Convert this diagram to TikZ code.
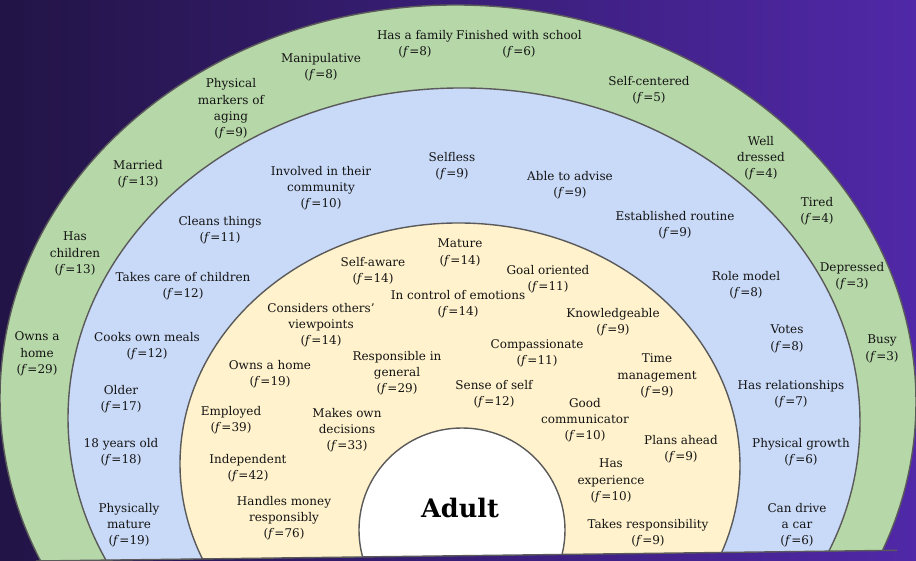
\documentclass[tikz,border=0pt]{standalone}
\usepackage{fontspec}
\setmainfont{DejaVu Serif}
\usepackage{tikz}
\usetikzlibrary{positioning}
\definecolor{bgdark}{RGB}{34,20,70}
\definecolor{bglight}{RGB}{80,40,168}
\definecolor{ringgreen}{RGB}{182,215,168}
\definecolor{ringblue}{RGB}{201,218,248}
\definecolor{ringyellow}{RGB}{255,242,204}
\definecolor{ringline}{RGB}{90,90,90}
\tikzstyle{ring} = [draw=ringline, line width=1.4pt]
\tikzstyle{lbl} = [align=center, inner sep=0pt, text=black!92, font=\fontsize{12}{16.3}\selectfont]
\newcommand{\fq}[1]{(\textit{f}=#1)}

\begin{document}
\begin{tikzpicture}[x=1pt,y=-1pt]
    \useasboundingbox (0,0) rectangle (916,561);
    \shade[left color=bgdark, right color=bglight] (0,0) rectangle (916,561);
    \begin{scope}
        \clip (-10,-10) -- (926,-10) -- (926,550) -- (0,561) -- cycle;
        \filldraw[ring, fill=ringgreen, rotate around={-1:(458,400)}] (458,400) ellipse [x radius=458, y radius=395];
        \filldraw[ring, fill=ringblue, rotate around={-1:(464,420)}] (464,420) ellipse [x radius=396, y radius=332];
        \filldraw[ring, fill=ringyellow, rotate around={-1:(460,465)}] (460,465) ellipse [x radius=280, y radius=242];
        \filldraw[ring, fill=white] (462,530) ellipse [x radius=103, y radius=102];
    \end{scope}
    \coordinate (baseL) at (36,561);
    \coordinate (baseR) at (897,550.3);
    \draw[ring] (baseL) -- (baseR);

    \begin{scope}[shift={(0,2)}]
    % outer ring
    \node[lbl] (hasfamily) at (415,42) {Has a family\\\fq{8}};
    \node[lbl] (finished) at (519,42) {Finished with school\\\fq{6}};
    \node[lbl] (manip) at (321,65) {Manipulative\\\fq{8}};
    \node[lbl] (physmarkers) at (231,107) {Physical\\markers of\\aging\\\fq{9}};
    \node[lbl] (selfcent) at (649,88) {Self-centered\\\fq{5}};
    \node[lbl] (married) at (138,172) {Married\\\fq{13}};
    \node[lbl] (welldressed) at (761,156) {Well\\dressed\\\fq{4}};
    \node[lbl] (tired) at (817,209) {Tired\\\fq{4}};
    \node[lbl] (haschildren) at (75,252) {Has\\children\\\fq{13}};
    \node[lbl] (depressed) at (852,274) {Depressed\\\fq{3}};
    \node[lbl] (ownshomeA) at (37,352) {Owns a\\home\\\fq{29}};
    \node[lbl] (busy) at (882,347) {Busy\\\fq{3}};

    % middle ring
    \node[lbl] (selfless) at (452,164) {Selfless\\\fq{9}};
    \node[lbl] (involved) at (321,186) {Involved in their\\community\\\fq{10}};
    \node[lbl] (advise) at (570,183) {Able to advise\\\fq{9}};
    \node[lbl] (cleans) at (220,228) {Cleans things\\\fq{11}};
    \node[lbl] (routine) at (675,223) {Established routine\\\fq{9}};
    \node[lbl] (caretaking) at (183,284) {Takes care of children\\\fq{12}};
    \node[lbl] (rolemodel) at (746,283) {Role model\\\fq{8}};
    \node[lbl] (cooks) at (147,344) {Cooks own meals\\\fq{12}};
    \node[lbl] (votes) at (787,337) {Votes\\\fq{8}};
    \node[lbl] (older) at (121,397) {Older\\\fq{17}};
    \node[lbl] (relationships) at (791,392) {Has relationships\\\fq{7}};
    \node[lbl] (eighteen) at (121,450) {18 years old\\\fq{18}};
    \node[lbl] (growth) at (801,450) {Physical growth\\\fq{6}};
    \node[lbl] (physmature) at (129,523) {Physically\\mature\\\fq{19}};
    \node[lbl] (drive) at (797,523) {Can drive\\a car\\\fq{6}};

    % inner ring
    \node[lbl] (mature) at (460,251) {Mature\\\fq{14}};
    \node[lbl] (selfaware) at (373,269) {Self-aware\\\fq{14}};
    \node[lbl] (goal) at (548,277) {Goal oriented\\\fq{11}};
    \node[lbl] (control) at (458,302) {In control of emotions\\\fq{14}};
    \node[lbl] (considers) at (321,323) {Considers others'\\viewpoints\\\fq{14}};
    \node[lbl] (knowledge) at (613,320) {Knowledgeable\\\fq{9}};
    \node[lbl] (compassion) at (537,351) {Compassionate\\\fq{11}};
    \node[lbl] (responsible) at (397,371) {Responsible in\\general\\\fq{29}};
    \node[lbl] (timemgmt) at (657,374) {Time\\management\\\fq{9}};
    \node[lbl] (ownshomeB) at (270,372) {Owns a home\\\fq{19}};
    \node[lbl] (senseself) at (494,392) {Sense of self\\\fq{12}};
    \node[lbl] (communicator) at (585,418) {Good\\communicator\\\fq{10}};
    \node[lbl] (employed) at (231,418) {Employed\\\fq{39}};
    \node[lbl] (decisions) at (347,428) {Makes own\\decisions\\\fq{33}};
    \node[lbl] (plans) at (681,447) {Plans ahead\\\fq{9}};
    \node[lbl] (independent) at (248,466) {Independent\\\fq{42}};
    \node[lbl] (experience) at (611,479) {Has\\experience\\\fq{10}};
    \node[lbl] (money) at (284,516) {Handles money\\responsibly\\\fq{76}};
    \node[lbl] (takesresp) at (648,531) {Takes responsibility\\\fq{9}};
    \end{scope}

    \node[inner sep=0pt, font=\bfseries\fontsize{25.5}{25.5}\selectfont] (adult) at (460,508) {Adult};
\end{tikzpicture}
\end{document}
